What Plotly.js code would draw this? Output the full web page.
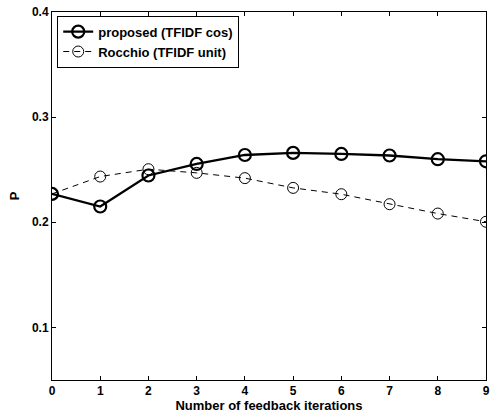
<!DOCTYPE html>
<html><head><meta charset="utf-8">
<script src="https://cdn.plot.ly/plotly-3.0.1.min.js"></script>
<style>body{margin:0;padding:0;background:#fff}#plot{width:491px;height:417px}</style>
</head><body><div id="plot"></div>
<script>
const iterations = [0,1,2,3,4,5,6,7,8,9];
const proposed = [0.227,0.215,0.2445,0.2555,0.264,0.266,0.265,0.2635,0.260,0.258];
const rocchio = [0.227,0.2435,0.2505,0.247,0.242,0.2327,0.2267,0.2172,0.2083,0.2005];
const yTicks = [0.1,0.2,0.3,0.4];
const xTicks = [0,1,2,3,4,5,6,7,8,9];

const fnt = {family:'Liberation Sans, Arial, sans-serif', size:12, color:'#000', weight:'bold'};
const fnt13 = Object.assign({}, fnt, {size:13});
const traces = [
  {x:iterations, y:proposed, name:'proposed (TFIDF cos)', mode:'lines+markers',
   line:{color:'#000', width:2.3}, marker:{symbol:'circle-open', size:12, color:'#000', line:{width:2.2, color:'#000'}}},
  {x:iterations, y:rocchio, name:'Rocchio (TFIDF unit)', mode:'lines+markers',
   line:{color:'#000', width:1, dash:'6px,5px'}, marker:{symbol:'circle-open', size:11, color:'#000', line:{width:1, color:'#000'}}}
];
const axBase = {showgrid:false, zeroline:false, showline:true, linecolor:'#000', linewidth:1, mirror:'ticks',
  ticks:'inside', ticklen:4, tickcolor:'#000', tickfont:fnt};
const layout = {
  width:491, height:417, margin:{l:52, r:5, t:12, b:37},
  paper_bgcolor:'#fff', plot_bgcolor:'#fff', font:fnt, showlegend:true,
  xaxis: Object.assign({}, axBase, {range:[0,9], tickvals:xTicks, ticktext:xTicks.map(String),
    title:{text:'Number of feedback iterations', font:fnt13, standoff:1}}),
  yaxis: Object.assign({}, axBase, {range:[0.05,0.4], tickvals:yTicks, ticktext:yTicks.map(v=>v.toFixed(1)),
    title:{text:'P', font:fnt13, standoff:9}}),
  legend:{x:0.012, y:0.99, xanchor:'left', yanchor:'top', bgcolor:'#fff', bordercolor:'#000', borderwidth:1,
    font:fnt13, itemwidth:30, tracegroupgap:0}
};
Plotly.newPlot('plot', traces, layout, {displayModeBar:false, staticPlot:true});
</script></body></html>
